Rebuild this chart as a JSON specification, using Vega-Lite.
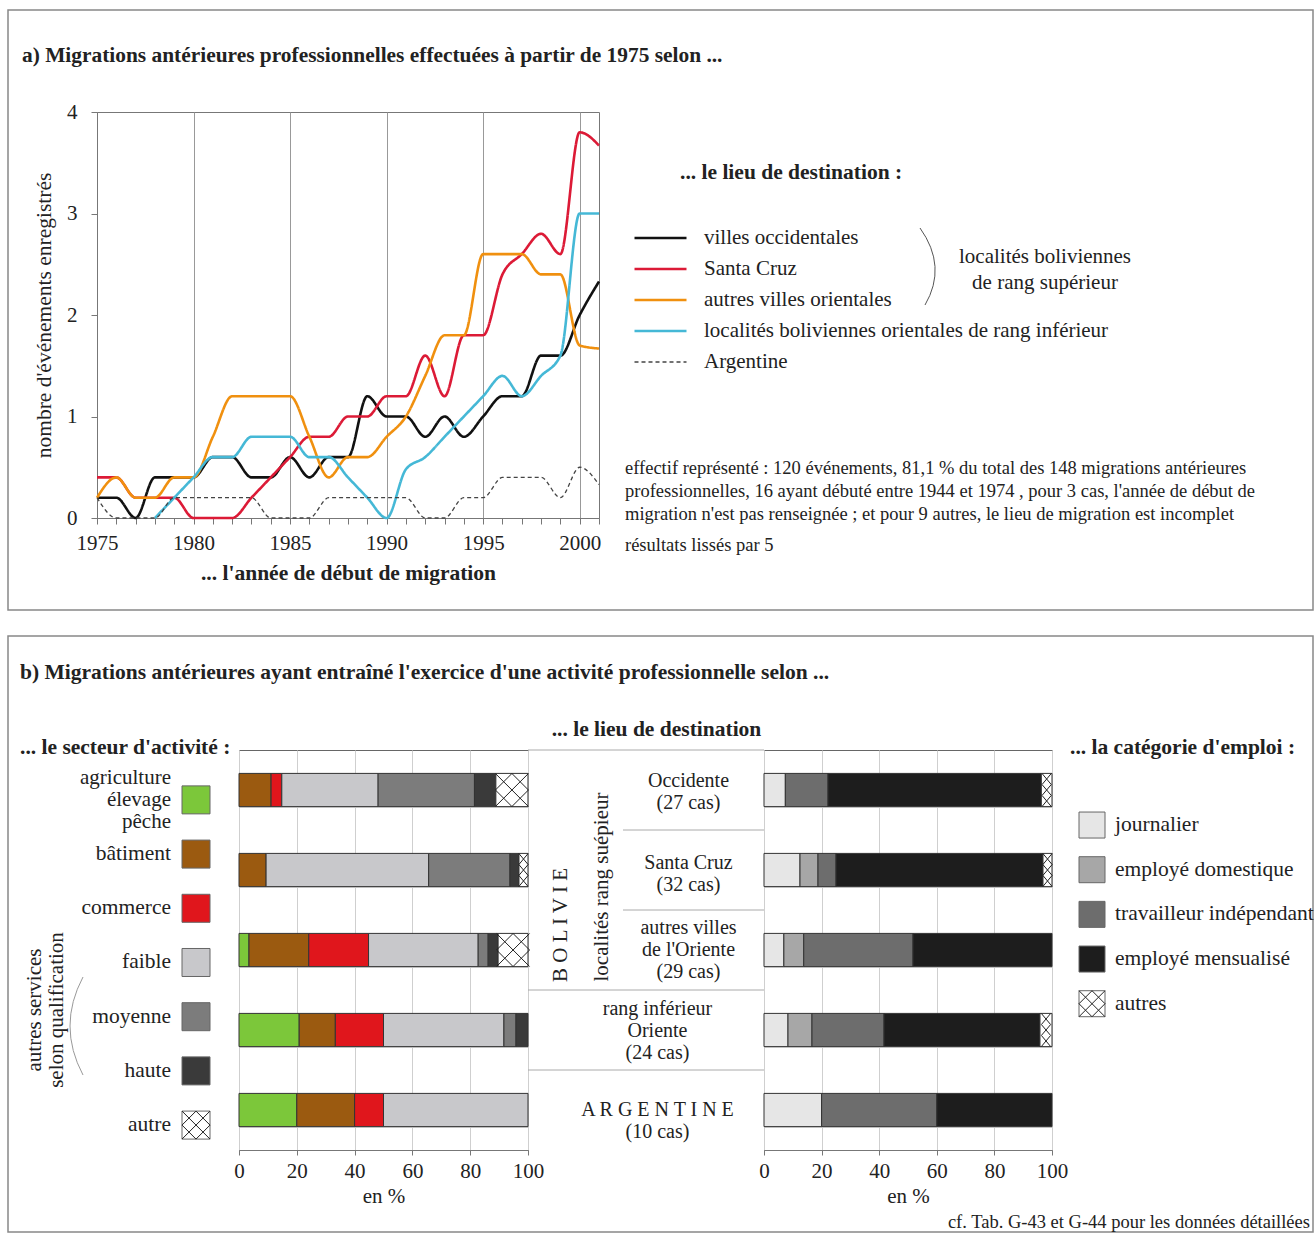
{
  "$schema": "https://vega.github.io/schema/vega-lite/v6.json",
  "background": "white",
  "padding": {"left": 5, "top": 7, "right": 0, "bottom": 0},
  "spacing": 20,
  "resolve": {"scale": {"color": "independent", "fill": "independent", "shape": "independent", "strokeDash": "independent", "x": "independent", "y": "independent"}, "legend": {"color": "independent", "fill": "independent", "shape": "independent", "strokeDash": "independent"}},
  "config": {
    "font": "Liberation Serif",
    "view": {"stroke": null},
    "axis": {"labelFont": "Liberation Serif", "titleFont": "Liberation Serif", "labelColor": "#222", "titleColor": "#222", "labelFontSize": 21, "titleFontSize": 21, "titleFontWeight": "normal", "domainColor": "#777", "tickColor": "#777", "gridColor": "#c8c8c8", "labelFlush": false},
    "title": {"font": "Liberation Serif", "fontSize": 21.5, "fontWeight": "bold", "color": "#222", "subtitleFont": "Liberation Serif", "subtitleFontSize": 21.5, "subtitleFontWeight": "bold", "subtitleColor": "#222"},
    "legend": {"labelFont": "Liberation Serif", "titleFont": "Liberation Serif"},
    "text": {"font": "Liberation Serif", "color": "#222"}
  },
  "vconcat": [
    {
      "bounds": "flush",
      "spacing": 26,
      "resolve": {"scale": {"color": "independent", "strokeDash": "independent", "x": "independent", "y": "independent"}, "legend": {"color": "independent", "strokeDash": "independent"}},
      "hconcat": [
        {
          "width": 502,
          "height": 406,
          "title": {"text": "a) Migrations antérieures professionnelles effectuées à partir de 1975 selon ...", "anchor": "start", "frame": "group", "dx": -75, "offset": 35, "fontSize": 21.4},
          "view": {"stroke": "#777"},
          "data": {"values": [
            {"d": "villes occidentales", "year": 1975, "v": 0.2}, {"d": "villes occidentales", "year": 1976, "v": 0.2}, {"d": "villes occidentales", "year": 1977, "v": 0}, {"d": "villes occidentales", "year": 1978, "v": 0.4}, {"d": "villes occidentales", "year": 1979, "v": 0.4}, {"d": "villes occidentales", "year": 1980, "v": 0.4}, {"d": "villes occidentales", "year": 1981, "v": 0.6}, {"d": "villes occidentales", "year": 1982, "v": 0.6}, {"d": "villes occidentales", "year": 1983, "v": 0.4}, {"d": "villes occidentales", "year": 1984, "v": 0.4}, {"d": "villes occidentales", "year": 1985, "v": 0.6}, {"d": "villes occidentales", "year": 1986, "v": 0.4}, {"d": "villes occidentales", "year": 1987, "v": 0.6}, {"d": "villes occidentales", "year": 1988, "v": 0.6}, {"d": "villes occidentales", "year": 1989, "v": 1.2}, {"d": "villes occidentales", "year": 1990, "v": 1.0}, {"d": "villes occidentales", "year": 1991, "v": 1.0}, {"d": "villes occidentales", "year": 1992, "v": 0.8}, {"d": "villes occidentales", "year": 1993, "v": 1.0}, {"d": "villes occidentales", "year": 1994, "v": 0.8}, {"d": "villes occidentales", "year": 1995, "v": 1.0}, {"d": "villes occidentales", "year": 1996, "v": 1.2}, {"d": "villes occidentales", "year": 1997, "v": 1.2}, {"d": "villes occidentales", "year": 1998, "v": 1.6}, {"d": "villes occidentales", "year": 1999, "v": 1.6}, {"d": "villes occidentales", "year": 2000, "v": 2.0}, {"d": "villes occidentales", "year": 2001, "v": 2.33},
            {"d": "Santa Cruz", "year": 1975, "v": 0.4}, {"d": "Santa Cruz", "year": 1976, "v": 0.4}, {"d": "Santa Cruz", "year": 1977, "v": 0.2}, {"d": "Santa Cruz", "year": 1978, "v": 0.2}, {"d": "Santa Cruz", "year": 1979, "v": 0.2}, {"d": "Santa Cruz", "year": 1980, "v": 0}, {"d": "Santa Cruz", "year": 1981, "v": 0}, {"d": "Santa Cruz", "year": 1982, "v": 0}, {"d": "Santa Cruz", "year": 1983, "v": 0.2}, {"d": "Santa Cruz", "year": 1984, "v": 0.4}, {"d": "Santa Cruz", "year": 1985, "v": 0.6}, {"d": "Santa Cruz", "year": 1986, "v": 0.8}, {"d": "Santa Cruz", "year": 1987, "v": 0.8}, {"d": "Santa Cruz", "year": 1988, "v": 1.0}, {"d": "Santa Cruz", "year": 1989, "v": 1.0}, {"d": "Santa Cruz", "year": 1990, "v": 1.2}, {"d": "Santa Cruz", "year": 1991, "v": 1.2}, {"d": "Santa Cruz", "year": 1992, "v": 1.6}, {"d": "Santa Cruz", "year": 1993, "v": 1.2}, {"d": "Santa Cruz", "year": 1994, "v": 1.8}, {"d": "Santa Cruz", "year": 1995, "v": 1.8}, {"d": "Santa Cruz", "year": 1996, "v": 2.4}, {"d": "Santa Cruz", "year": 1997, "v": 2.6}, {"d": "Santa Cruz", "year": 1998, "v": 2.8}, {"d": "Santa Cruz", "year": 1999, "v": 2.6}, {"d": "Santa Cruz", "year": 2000, "v": 3.8}, {"d": "Santa Cruz", "year": 2001, "v": 3.67},
            {"d": "autres villes orientales", "year": 1975, "v": 0.2}, {"d": "autres villes orientales", "year": 1976, "v": 0.4}, {"d": "autres villes orientales", "year": 1977, "v": 0.2}, {"d": "autres villes orientales", "year": 1978, "v": 0.2}, {"d": "autres villes orientales", "year": 1979, "v": 0.4}, {"d": "autres villes orientales", "year": 1980, "v": 0.4}, {"d": "autres villes orientales", "year": 1981, "v": 0.8}, {"d": "autres villes orientales", "year": 1982, "v": 1.2}, {"d": "autres villes orientales", "year": 1983, "v": 1.2}, {"d": "autres villes orientales", "year": 1984, "v": 1.2}, {"d": "autres villes orientales", "year": 1985, "v": 1.2}, {"d": "autres villes orientales", "year": 1986, "v": 0.8}, {"d": "autres villes orientales", "year": 1987, "v": 0.4}, {"d": "autres villes orientales", "year": 1988, "v": 0.6}, {"d": "autres villes orientales", "year": 1989, "v": 0.6}, {"d": "autres villes orientales", "year": 1990, "v": 0.8}, {"d": "autres villes orientales", "year": 1991, "v": 1.0}, {"d": "autres villes orientales", "year": 1992, "v": 1.4}, {"d": "autres villes orientales", "year": 1993, "v": 1.8}, {"d": "autres villes orientales", "year": 1994, "v": 1.8}, {"d": "autres villes orientales", "year": 1995, "v": 2.6}, {"d": "autres villes orientales", "year": 1996, "v": 2.6}, {"d": "autres villes orientales", "year": 1997, "v": 2.6}, {"d": "autres villes orientales", "year": 1998, "v": 2.4}, {"d": "autres villes orientales", "year": 1999, "v": 2.4}, {"d": "autres villes orientales", "year": 2000, "v": 1.7}, {"d": "autres villes orientales", "year": 2001, "v": 1.67},
            {"d": "localités boliviennes orientales de rang inférieur", "year": 1978, "v": 0}, {"d": "localités boliviennes orientales de rang inférieur", "year": 1979, "v": 0.2}, {"d": "localités boliviennes orientales de rang inférieur", "year": 1980, "v": 0.4}, {"d": "localités boliviennes orientales de rang inférieur", "year": 1981, "v": 0.6}, {"d": "localités boliviennes orientales de rang inférieur", "year": 1982, "v": 0.6}, {"d": "localités boliviennes orientales de rang inférieur", "year": 1983, "v": 0.8}, {"d": "localités boliviennes orientales de rang inférieur", "year": 1984, "v": 0.8}, {"d": "localités boliviennes orientales de rang inférieur", "year": 1985, "v": 0.8}, {"d": "localités boliviennes orientales de rang inférieur", "year": 1986, "v": 0.6}, {"d": "localités boliviennes orientales de rang inférieur", "year": 1987, "v": 0.6}, {"d": "localités boliviennes orientales de rang inférieur", "year": 1988, "v": 0.4}, {"d": "localités boliviennes orientales de rang inférieur", "year": 1989, "v": 0.2}, {"d": "localités boliviennes orientales de rang inférieur", "year": 1990, "v": 0}, {"d": "localités boliviennes orientales de rang inférieur", "year": 1991, "v": 0.48}, {"d": "localités boliviennes orientales de rang inférieur", "year": 1992, "v": 0.6}, {"d": "localités boliviennes orientales de rang inférieur", "year": 1993, "v": 0.8}, {"d": "localités boliviennes orientales de rang inférieur", "year": 1994, "v": 1.0}, {"d": "localités boliviennes orientales de rang inférieur", "year": 1995, "v": 1.2}, {"d": "localités boliviennes orientales de rang inférieur", "year": 1996, "v": 1.4}, {"d": "localités boliviennes orientales de rang inférieur", "year": 1997, "v": 1.2}, {"d": "localités boliviennes orientales de rang inférieur", "year": 1998, "v": 1.4}, {"d": "localités boliviennes orientales de rang inférieur", "year": 1999, "v": 1.6}, {"d": "localités boliviennes orientales de rang inférieur", "year": 2000, "v": 3.0}, {"d": "localités boliviennes orientales de rang inférieur", "year": 2001, "v": 3.0},
            {"d": "Argentine", "year": 1975, "v": 0.2}, {"d": "Argentine", "year": 1976, "v": 0}, {"d": "Argentine", "year": 1977, "v": 0}, {"d": "Argentine", "year": 1978, "v": 0}, {"d": "Argentine", "year": 1979, "v": 0.2}, {"d": "Argentine", "year": 1980, "v": 0.2}, {"d": "Argentine", "year": 1981, "v": 0.2}, {"d": "Argentine", "year": 1982, "v": 0.2}, {"d": "Argentine", "year": 1983, "v": 0.2}, {"d": "Argentine", "year": 1984, "v": 0}, {"d": "Argentine", "year": 1985, "v": 0}, {"d": "Argentine", "year": 1986, "v": 0}, {"d": "Argentine", "year": 1987, "v": 0.2}, {"d": "Argentine", "year": 1988, "v": 0.2}, {"d": "Argentine", "year": 1989, "v": 0.2}, {"d": "Argentine", "year": 1990, "v": 0.2}, {"d": "Argentine", "year": 1991, "v": 0.2}, {"d": "Argentine", "year": 1992, "v": 0}, {"d": "Argentine", "year": 1993, "v": 0}, {"d": "Argentine", "year": 1994, "v": 0.2}, {"d": "Argentine", "year": 1995, "v": 0.2}, {"d": "Argentine", "year": 1996, "v": 0.4}, {"d": "Argentine", "year": 1997, "v": 0.4}, {"d": "Argentine", "year": 1998, "v": 0.4}, {"d": "Argentine", "year": 1999, "v": 0.2}, {"d": "Argentine", "year": 2000, "v": 0.5}, {"d": "Argentine", "year": 2001, "v": 0.33}
          ]},
          "mark": {"type": "line", "interpolate": "monotone"},
          "encoding": {
            "x": {"field": "year", "type": "quantitative",
              "scale": {"domain": [1975, 2001], "nice": false, "zero": false},
              "axis": {"values": [1975, 1976, 1977, 1978, 1979, 1980, 1981, 1982, 1983, 1984, 1985, 1986, 1987, 1988, 1989, 1990, 1991, 1992, 1993, 1994, 1995, 1996, 1997, 1998, 1999, 2000, 2001], "format": "d", "labelExpr": "datum.value % 5 === 0 ? datum.label : ''", "labelOverlap": false, "labelPadding": 8, "tickSize": 6, "grid": true, "gridColor": "#999", "gridOpacity": {"condition": {"test": "datum.value % 5 === 0 && datum.value > 1975", "value": 1}, "value": 0}, "title": "... l'année de début de migration", "titleFontWeight": "bold", "titleFontSize": 21.5, "titlePadding": 9}},
            "y": {"field": "v", "type": "quantitative",
              "scale": {"domain": [0, 4], "nice": false},
              "axis": {"values": [0, 0.5, 1, 1.5, 2, 2.5, 3, 3.5, 4], "format": "d", "labelExpr": "datum.value % 1 === 0 ? datum.label : ''", "tickSize": 6, "labelPadding": 14, "grid": false, "title": "nombre d'événements enregistrés", "titleFontSize": 21.5, "titlePadding": 11}},
            "color": {"field": "d", "type": "nominal",
              "scale": {"domain": ["villes occidentales", "Santa Cruz", "autres villes orientales", "localités boliviennes orientales de rang inférieur", "Argentine"], "range": ["#111111", "#dc1a36", "#f0900f", "#45b8d6", "#444444"]},
              "legend": {"orient": "none", "legendX": 540, "legendY": 50, "padding": 0, "title": "... le lieu de destination :", "titleFontSize": 21.5, "titleFontWeight": "bold", "titleColor": "#222", "titlePadding": 44, "titleLimit": 0, "labelLimit": 0, "labelFontSize": 21, "labelColor": "#222", "symbolType": "M-1,0H3", "symbolSize": 676, "symbolStrokeWidth": 2.6, "rowPadding": 9, "labelOffset": 46,
                "encode": {"title": {"update": {"dx": {"value": 43}}}, "symbols": {"update": {"strokeWidth": {"signal": "datum.value === 'Argentine' ? 1.3 : 2.6"}, "strokeDash": {"signal": "datum.value === 'Argentine' ? [4, 3] : [1, 0]"}}}}}},
            "strokeDash": {"field": "d", "type": "nominal", "legend": null,
              "scale": {"domain": ["villes occidentales", "Santa Cruz", "autres villes orientales", "localités boliviennes orientales de rang inférieur", "Argentine"], "range": [[1, 0], [1, 0], [1, 0], [1, 0], [4, 3]]}},
            "strokeWidth": {"condition": {"test": "datum.d === 'Argentine'", "value": 1.3}, "value": 2.6}
          }
        },
        {
          "width": 690,
          "height": 406,
          "layer": [
            {"data": {"values": [{"t": "cadre a"}]},
             "mark": {"type": "point", "shape": "M-19.24,-6.1H6.86V5.9H-19.24Z", "size": 10000, "filled": false, "stroke": "#888", "strokeWidth": 1.5, "opacity": 1},
             "encoding": {}},
            {"data": {"values": [{"t": "localités boliviennes|de rang supérieur"}]},
             "mark": {"type": "text", "lineBreak": "|", "fontSize": 21, "lineHeight": 26, "align": "center", "baseline": "middle", "dx": 75, "dy": -58},
             "encoding": {"text": {"field": "t"}}},
            {"data": {"values": [{"t": "accolade"}]},
             "mark": {"type": "point", "shape": "M-1,-1.74Q-0.45,-0.97 -0.9,-0.2", "size": 10000, "filled": false, "stroke": "#555", "strokeWidth": 1, "opacity": 1},
             "encoding": {}},
            {"data": {"values": [{"t": "effectif représenté : 120 événements, 81,1 % du total des 148 migrations antérieures|professionnelles, 16 ayant débuté entre 1944 et 1974 , pour 3 cas, l'année de début de|migration n'est pas renseignée ; et pour 9 autres, le lieu de migration est incomplet"}]},
             "mark": {"type": "text", "lineBreak": "|", "fontSize": 18.5, "lineHeight": 23, "align": "left", "baseline": "middle", "dx": -345, "dy": 153},
             "encoding": {"text": {"field": "t"}}},
            {"data": {"values": [{"t": "résultats lissés par 5"}]},
             "mark": {"type": "text", "fontSize": 18.5, "align": "left", "baseline": "middle", "dx": -345, "dy": 230},
             "encoding": {"text": {"field": "t"}}}
          ]
        }
      ]
    },
    {
      "bounds": "flush",
      "spacing": 0,
      "resolve": {"scale": {"color": "independent", "fill": "independent", "shape": "independent", "x": "independent", "y": "independent"}, "legend": {"color": "independent", "fill": "independent", "shape": "independent"}},
      "hconcat": [
        {
          "width": 56,
          "height": 400,
          "title": {"text": "b) Migrations antérieures ayant entraîné l'exercice d'une activité professionnelle selon ...", "subtitle": "... le secteur d'activité :", "anchor": "start", "frame": "group", "dx": -77, "offset": -8, "subtitlePadding": 53},
          "layer": [
            {"data": {"values": [{"t": "autres services|selon qualification"}]},
             "mark": {"type": "text", "angle": 270, "lineBreak": "|", "fontSize": 21, "lineHeight": 22, "align": "center", "baseline": "middle", "dx": -60, "dy": -90},
             "encoding": {"text": {"field": "t"}}},
            {"data": {"values": [{"t": "accolade"}]},
             "mark": {"type": "point", "shape": "M-0.84,0.54Q-1.36,1.52 -0.84,2.5", "size": 10000, "filled": false, "stroke": "#999", "strokeWidth": 1, "opacity": 1},
             "encoding": {}}
          ]
        },
        {
          "width": 86,
          "height": 400,
          "data": {"values": [
            {"s": "agriculture", "label": "agriculture|élevage|pêche"},
            {"s": "bâtiment", "label": "bâtiment"},
            {"s": "commerce", "label": "commerce"},
            {"s": "faible", "label": "faible"},
            {"s": "moyenne", "label": "moyenne"},
            {"s": "haute", "label": "haute"},
            {"s": "autre", "label": "autre"}
          ]},
          "encoding": {"y": {"field": "s", "type": "nominal", "scale": {"type": "point", "domain": ["agriculture", "bâtiment", "commerce", "faible", "moyenne", "haute", "autre"], "padding": 0.69, "align": 0.667}, "axis": null}},
          "layer": [
            {"mark": {"type": "point", "shape": "square", "size": 784, "filled": true, "opacity": 1, "stroke": "#666", "strokeWidth": 1},
             "encoding": {"fill": {"field": "s", "type": "nominal", "legend": null, "scale": {"domain": ["agriculture", "bâtiment", "commerce", "faible", "moyenne", "haute", "autre"], "range": ["#7cc73a", "#9b5a10", "#e0161c", "#c8c8cb", "#7c7c7c", "#3a3a3a", "#ffffff"]}}}},
            {"transform": [{"filter": "datum.s === 'autre'"}],
             "mark": {"type": "point", "shape": "M-1,-1L1,1M1,-1L-1,1M-1,0L0,-1L1,0L0,1Z", "size": 784, "filled": false, "stroke": "#222", "strokeWidth": 1, "opacity": 1}},
            {"transform": [{"filter": "datum.s !== 'agriculture'"}],
             "mark": {"type": "text", "align": "right", "baseline": "middle", "dx": -25, "fontSize": 21.5},
             "encoding": {"text": {"field": "label"}}},
            {"transform": [{"filter": "datum.s === 'agriculture'"}],
             "mark": {"type": "text", "align": "right", "baseline": "middle", "dx": -25, "dy": -22, "fontSize": 21, "lineBreak": "|", "lineHeight": 22},
             "encoding": {"text": {"field": "label"}}}
          ]
        },
        {
          "width": 289,
          "height": 400,
          "view": {"stroke": "#666"},
          "data": {"values": [
            {"dest": "Occidente", "s": "bâtiment", "pct": 11.11}, {"dest": "Occidente", "s": "commerce", "pct": 3.7}, {"dest": "Occidente", "s": "faible", "pct": 33.33}, {"dest": "Occidente", "s": "moyenne", "pct": 33.33}, {"dest": "Occidente", "s": "haute", "pct": 7.41}, {"dest": "Occidente", "s": "autre", "pct": 11.11},
            {"dest": "Santa Cruz", "s": "bâtiment", "pct": 9.38}, {"dest": "Santa Cruz", "s": "faible", "pct": 56.25}, {"dest": "Santa Cruz", "s": "moyenne", "pct": 28.13}, {"dest": "Santa Cruz", "s": "haute", "pct": 3.12}, {"dest": "Santa Cruz", "s": "autre", "pct": 3.12},
            {"dest": "autres villes de l'Oriente", "s": "agriculture", "pct": 3.45}, {"dest": "autres villes de l'Oriente", "s": "bâtiment", "pct": 20.69}, {"dest": "autres villes de l'Oriente", "s": "commerce", "pct": 20.69}, {"dest": "autres villes de l'Oriente", "s": "faible", "pct": 37.93}, {"dest": "autres villes de l'Oriente", "s": "moyenne", "pct": 3.45}, {"dest": "autres villes de l'Oriente", "s": "haute", "pct": 3.45}, {"dest": "autres villes de l'Oriente", "s": "autre", "pct": 10.34},
            {"dest": "rang inférieur Oriente", "s": "agriculture", "pct": 20.83}, {"dest": "rang inférieur Oriente", "s": "bâtiment", "pct": 12.5}, {"dest": "rang inférieur Oriente", "s": "commerce", "pct": 16.67}, {"dest": "rang inférieur Oriente", "s": "faible", "pct": 41.67}, {"dest": "rang inférieur Oriente", "s": "moyenne", "pct": 4.17}, {"dest": "rang inférieur Oriente", "s": "haute", "pct": 4.16},
            {"dest": "Argentine", "s": "agriculture", "pct": 20}, {"dest": "Argentine", "s": "bâtiment", "pct": 20}, {"dest": "Argentine", "s": "commerce", "pct": 10}, {"dest": "Argentine", "s": "faible", "pct": 50}
          ]},
          "transform": [
            {"calculate": "indexof(['agriculture', 'bâtiment', 'commerce', 'faible', 'moyenne', 'haute', 'autre'], datum.s)", "as": "k"},
            {"stack": "pct", "groupby": ["dest"], "sort": [{"field": "k", "order": "ascending"}], "as": ["p0", "p1"]},
            {"calculate": "(datum.p0 + datum.p1) / 2", "as": "pm"},
            {"calculate": "datum.pct < 6 ? 'n' : 'w'", "as": "hw"}
          ],
          "encoding": {"y": {"field": "dest", "type": "nominal", "scale": {"domain": ["Occidente", "Santa Cruz", "autres villes de l'Oriente", "rang inférieur Oriente", "Argentine"], "paddingInner": 0.585, "paddingOuter": 0.2925}, "axis": {"title": null, "labels": false, "ticks": false, "domain": false, "grid": true, "tickBand": "extent", "gridColor": "#cfcfcf"}}},
          "layer": [
            {"mark": {"type": "bar", "stroke": "#333", "strokeWidth": 1},
             "encoding": {
               "x": {"field": "p0", "type": "quantitative", "title": "en %", "scale": {"domain": [0, 100], "nice": false}, "axis": {"values": [0, 20, 40, 60, 80, 100], "tickSize": 5, "labelPadding": 5, "titlePadding": 4, "grid": true, "gridColor": "#cfcfcf"}},
               "x2": {"field": "p1"},
               "color": {"field": "s", "type": "nominal", "legend": null, "scale": {"domain": ["agriculture", "bâtiment", "commerce", "faible", "moyenne", "haute", "autre"], "range": ["#7cc73a", "#9b5a10", "#e0161c", "#c8c8cb", "#7c7c7c", "#3a3a3a", "#ffffff"]}}}},
            {"transform": [{"filter": "datum.s === 'autre'"}],
             "mark": {"type": "point", "filled": false, "stroke": "#222", "strokeWidth": 1, "size": 1089, "opacity": 1},
             "encoding": {
               "x": {"field": "pm", "type": "quantitative", "title": "en %"},
               "shape": {"field": "hw", "type": "nominal", "legend": null, "scale": {"domain": ["n", "w"], "range": ["M-0.28,-1L0.28,-0.33L-0.28,0.33L0.28,1M0.28,-1L-0.28,-0.33L0.28,0.33L-0.28,1", "M-1,-1L1,1M1,-1L-1,1M-1,0L0,-1L1,0L0,1Z"]}}}}
          ]
        },
        {
          "width": 95,
          "height": 400,
          "layer": [
            {"data": {"values": [{"t": "cadre b"}]},
             "mark": {"type": "point", "shape": "M-11.35,-6.28H14.75V5.64H-11.35Z", "size": 10000, "filled": false, "stroke": "#888", "strokeWidth": 1.5, "opacity": 1},
             "encoding": {}},
            {"data": {"values": [{"dest": "Occidente"}, {"dest": "rang inférieur Oriente"}, {"dest": "Argentine"}]},
             "mark": {"type": "rule", "color": "#aaa", "strokeWidth": 1},
             "encoding": {"y": {"field": "dest", "type": "nominal", "bandPosition": 0, "scale": {"domain": ["Occidente", "Santa Cruz", "autres villes de l'Oriente", "rang inférieur Oriente", "Argentine"], "paddingInner": 0, "paddingOuter": 0}, "axis": null}}},
            {"data": {"values": [{"t": "B O L I V I E"}]},
             "mark": {"type": "text", "angle": 270, "fontSize": 21, "align": "center", "baseline": "middle", "dx": 25, "dy": -14.5},
             "encoding": {"text": {"field": "t"}}},
            {"data": {"values": [{"t": "localités rang suépieur"}]},
             "mark": {"type": "text", "angle": 270, "fontSize": 21, "align": "center", "baseline": "middle", "dx": 63, "dy": 26.5},
             "encoding": {"text": {"field": "t"}}},
            {"data": {"values": [{"t": "cf. Tab. G-43 et G-44 pour les données détaillées"}]},
             "mark": {"type": "text", "align": "right", "baseline": "middle", "dx": 734.5, "dy": 272, "fontSize": 18.5},
             "encoding": {"text": {"field": "t"}}}
          ]
        },
        {
          "width": 141,
          "height": 400,
          "title": {"text": "... le lieu de destination", "anchor": "middle", "frame": "group", "dx": -37, "offset": 9},
          "data": {"values": [
            {"dest": "Occidente", "label": "Occidente|(27 cas)"},
            {"dest": "Santa Cruz", "label": "Santa Cruz|(32 cas)"},
            {"dest": "autres villes de l'Oriente", "label": "autres villes|de l'Oriente|(29 cas)"},
            {"dest": "rang inférieur Oriente", "label": "rang inférieur|Oriente|(24 cas)"},
            {"dest": "Argentine", "label": "A R G E N T I N E|(10 cas)"}
          ]},
          "encoding": {"y": {"field": "dest", "type": "nominal", "scale": {"domain": ["Occidente", "Santa Cruz", "autres villes de l'Oriente", "rang inférieur Oriente", "Argentine"], "paddingInner": 0, "paddingOuter": 0}, "axis": null}},
          "layer": [
            {"mark": {"type": "rule", "color": "#aaa", "strokeWidth": 1},
             "encoding": {"y": {"field": "dest", "type": "nominal", "bandPosition": 0, "axis": null}}},
            {"transform": [{"filter": {"field": "dest", "oneOf": ["Occidente"]}}],
             "mark": {"type": "text", "lineBreak": "|", "fontSize": 20, "lineHeight": 22, "align": "center", "baseline": "middle", "dx": -5, "dy": -9},
             "encoding": {"text": {"field": "label"}}},
            {"transform": [{"filter": {"field": "dest", "oneOf": ["Santa Cruz"]}}],
             "mark": {"type": "text", "lineBreak": "|", "fontSize": 20, "lineHeight": 22, "align": "center", "baseline": "middle", "dx": -5, "dy": -7},
             "encoding": {"text": {"field": "label"}}},
            {"transform": [{"filter": {"field": "dest", "oneOf": ["autres villes de l'Oriente"]}}],
             "mark": {"type": "text", "lineBreak": "|", "fontSize": 20, "lineHeight": 22, "align": "center", "baseline": "middle", "dx": -5, "dy": -22},
             "encoding": {"text": {"field": "label"}}},
            {"transform": [{"filter": {"field": "dest", "oneOf": ["rang inférieur Oriente"]}}],
             "mark": {"type": "text", "lineBreak": "|", "fontSize": 20, "lineHeight": 22, "align": "center", "baseline": "middle", "dx": -36, "dy": -21},
             "encoding": {"text": {"field": "label"}}},
            {"transform": [{"filter": {"field": "dest", "oneOf": ["Argentine"]}}],
             "mark": {"type": "text", "lineBreak": "|", "fontSize": 20, "lineHeight": 22, "align": "center", "baseline": "middle", "dx": -36, "dy": 0},
             "encoding": {"text": {"field": "label"}}}
          ]
        },
        {
          "width": 288,
          "height": 400,
          "view": {"stroke": "#666"},
          "data": {"values": [
            {"dest": "Occidente", "c": "journalier", "pct": 7.41}, {"dest": "Occidente", "c": "travailleur indépendant", "pct": 14.81}, {"dest": "Occidente", "c": "employé mensualisé", "pct": 74.07}, {"dest": "Occidente", "c": "autres", "pct": 3.71},
            {"dest": "Santa Cruz", "c": "journalier", "pct": 12.5}, {"dest": "Santa Cruz", "c": "employé domestique", "pct": 6.25}, {"dest": "Santa Cruz", "c": "travailleur indépendant", "pct": 6.25}, {"dest": "Santa Cruz", "c": "employé mensualisé", "pct": 71.88}, {"dest": "Santa Cruz", "c": "autres", "pct": 3.12},
            {"dest": "autres villes de l'Oriente", "c": "journalier", "pct": 6.9}, {"dest": "autres villes de l'Oriente", "c": "employé domestique", "pct": 6.9}, {"dest": "autres villes de l'Oriente", "c": "travailleur indépendant", "pct": 37.93}, {"dest": "autres villes de l'Oriente", "c": "employé mensualisé", "pct": 48.27},
            {"dest": "rang inférieur Oriente", "c": "journalier", "pct": 8.33}, {"dest": "rang inférieur Oriente", "c": "employé domestique", "pct": 8.33}, {"dest": "rang inférieur Oriente", "c": "travailleur indépendant", "pct": 25}, {"dest": "rang inférieur Oriente", "c": "employé mensualisé", "pct": 54.17}, {"dest": "rang inférieur Oriente", "c": "autres", "pct": 4.17},
            {"dest": "Argentine", "c": "journalier", "pct": 20}, {"dest": "Argentine", "c": "travailleur indépendant", "pct": 40}, {"dest": "Argentine", "c": "employé mensualisé", "pct": 40}
          ]},
          "transform": [
            {"calculate": "indexof(['journalier', 'employé domestique', 'travailleur indépendant', 'employé mensualisé', 'autres'], datum.c)", "as": "k"},
            {"stack": "pct", "groupby": ["dest"], "sort": [{"field": "k", "order": "ascending"}], "as": ["p0", "p1"]},
            {"calculate": "(datum.p0 + datum.p1) / 2", "as": "pm"},
            {"calculate": "datum.pct < 6 ? 'n' : 'w'", "as": "hw"}
          ],
          "encoding": {"y": {"field": "dest", "type": "nominal", "scale": {"domain": ["Occidente", "Santa Cruz", "autres villes de l'Oriente", "rang inférieur Oriente", "Argentine"], "paddingInner": 0.585, "paddingOuter": 0.2925}, "axis": {"title": null, "labels": false, "ticks": false, "domain": false, "grid": true, "tickBand": "extent", "gridColor": "#cfcfcf"}}},
          "layer": [
            {"mark": {"type": "bar", "stroke": "#333", "strokeWidth": 1},
             "encoding": {
               "x": {"field": "p0", "type": "quantitative", "title": "en %", "scale": {"domain": [0, 100], "nice": false}, "axis": {"values": [0, 20, 40, 60, 80, 100], "tickSize": 5, "labelPadding": 5, "titlePadding": 4, "grid": true, "gridColor": "#cfcfcf"}},
               "x2": {"field": "p1"},
               "color": {"field": "c", "type": "nominal", "legend": null, "scale": {"domain": ["journalier", "employé domestique", "travailleur indépendant", "employé mensualisé", "autres"], "range": ["#e6e6e6", "#a7a7a7", "#6d6d6d", "#1d1d1d", "#ffffff"]}}}},
            {"transform": [{"filter": "datum.c === 'autres'"}],
             "mark": {"type": "point", "filled": false, "stroke": "#222", "strokeWidth": 1, "size": 1089, "opacity": 1},
             "encoding": {
               "x": {"field": "pm", "type": "quantitative", "title": "en %"},
               "shape": {"field": "hw", "type": "nominal", "legend": null, "scale": {"domain": ["n", "w"], "range": ["M-0.28,-1L0.28,-0.33L-0.28,0.33L0.28,1M0.28,-1L-0.28,-0.33L0.28,0.33L-0.28,1", "M-1,-1L1,1M1,-1L-1,1M-1,0L0,-1L1,0L0,1Z"]}}}}
          ]
        },
        {
          "width": 80,
          "height": 268,
          "title": {"text": "... la catégorie d'emploi :", "anchor": "start", "frame": "group", "dx": 18, "offset": -8},
          "data": {"values": [
            {"c": "journalier"}, {"c": "employé domestique"}, {"c": "travailleur indépendant"}, {"c": "employé mensualisé"}, {"c": "autres"}
          ]},
          "encoding": {"y": {"field": "c", "type": "nominal", "scale": {"type": "point", "domain": ["journalier", "employé domestique", "travailleur indépendant", "employé mensualisé", "autres"], "padding": 1, "align": 0.84}, "axis": null}},
          "layer": [
            {"mark": {"type": "point", "shape": "square", "size": 676, "filled": true, "opacity": 1, "stroke": "#666", "strokeWidth": 1},
             "encoding": {"fill": {"field": "c", "type": "nominal", "legend": null, "scale": {"domain": ["journalier", "employé domestique", "travailleur indépendant", "employé mensualisé", "autres"], "range": ["#e6e6e6", "#a7a7a7", "#6d6d6d", "#1d1d1d", "#ffffff"]}}}},
            {"transform": [{"filter": "datum.c === 'autres'"}],
             "mark": {"type": "point", "shape": "M-1,-1L1,1M1,-1L-1,1M-1,0L0,-1L1,0L0,1Z", "size": 676, "filled": false, "stroke": "#222", "strokeWidth": 1, "opacity": 1}},
            {"mark": {"type": "text", "align": "left", "baseline": "middle", "dx": 23, "fontSize": 21.5},
             "encoding": {"text": {"field": "c"}}}
          ]
        }
      ]
    }
  ]
}
